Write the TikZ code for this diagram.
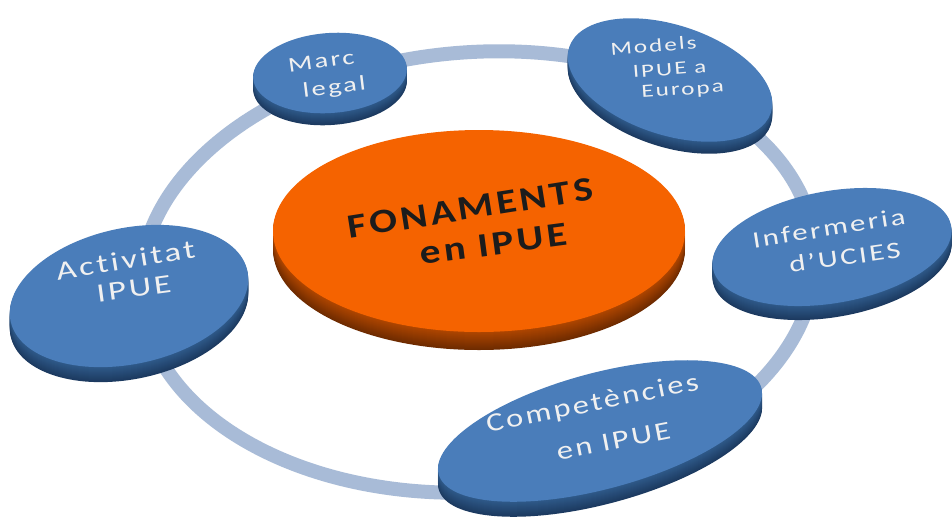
\documentclass[tikz,border=0pt]{standalone}
\usepackage{fontspec}
\setmainfont[Ligatures=NoCommon, LetterSpace=8]{Carlito}
\definecolor{ringcol}{HTML}{A8BBD7}
\definecolor{bluetop}{HTML}{4A7DBA}
\definecolor{blueside}{HTML}{2F5A8A}
\definecolor{bluedark}{HTML}{1C3A60}
\definecolor{orangetop}{HTML}{F56300}
\definecolor{orangeside}{HTML}{B04600}
\definecolor{orangedark}{HTML}{6E2B00}
\definecolor{lighttext}{HTML}{F0F0F0}
\definecolor{darktext}{HTML}{1C1C1C}
% #1 cx, #2 cy, #3 rx, #4 ry, #5 rotation, #6 thickness, #7 top, #8 side, #9 darkest
\newcommand\mydisk[9]{%
  \foreach \k [evaluate=\k as \p using int(100*\k/#6)] in {#6,...,1}{%
    \fill[#9!\p!#8, rotate around={#5:(#1,#2+\k)}] (#1,#2+\k) ellipse [x radius=#3pt, y radius=#4pt];
  }
  \fill[#7, rotate around={#5:(#1,#2)}] (#1,#2) ellipse [x radius=#3pt, y radius=#4pt];
}
\tikzset{
  bluelabel/.style={text=lighttext, anchor=base, inner sep=0pt},
  centerlabel/.style={text=darktext, anchor=base, inner sep=0pt}
}
\begin{document}
\begin{tikzpicture}[x=1pt,y=-1pt]
\useasboundingbox (0,0) rectangle (952,523);
\fill[white] (0,0) rectangle (952,523);
% ring
\draw[ringcol, line width=14pt, rotate around={4:(478,272)}] (478,272) ellipse [x radius=338pt, y radius=220pt];
% central disk
\mydisk{479}{231}{206}{101}{0}{18}{orangetop}{orangeside}{orangedark}
% outer disks
\mydisk{330}{73}{77}{40}{4}{12}{bluetop}{blueside}{bluedark}
\mydisk{670}{80}{106}{55}{-18}{12}{bluetop}{blueside}{bluedark}
\mydisk{832}{247}{121}{56}{10}{14}{bluetop}{blueside}{bluedark}
\mydisk{129}{296}{121}{68}{12}{15}{bluetop}{blueside}{bluedark}
\mydisk{600}{431}{167}{58}{15}{15}{bluetop}{blueside}{bluedark}
% labels
\node[centerlabel, font=\bfseries\fontsize{34}{34}\selectfont, rotate=9, xscale=1.21] (fon1) at (472,219) {FONAMENTS};
\node[centerlabel, font=\bfseries\fontsize{34}{34}\selectfont, rotate=7.5, xscale=1.21] (fon2) at (495,255) {en IPUE};
\node[bluelabel, font=\fontsize{21}{21}\selectfont, rotate=8, xscale=1.36] (marc1) at (322,68) {Marc};
\node[bluelabel, font=\fontsize{21}{21}\selectfont, rotate=7, xscale=1.36] (marc2) at (335,93.5) {legal};
\node[bluelabel, font=\fontsize{18.5}{18.5}\selectfont, rotate=5, xscale=1.36] (mod1) at (654,52) {Models};
\node[bluelabel, font=\fontsize{18.5}{18.5}\selectfont, rotate=4.6, xscale=1.36] (mod2) at (670,75) {IPUE a};
\node[bluelabel, font=\fontsize{18.5}{18.5}\selectfont, rotate=4, xscale=1.36] (mod3) at (683,95) {Europa};
\node[bluelabel, font=\fontsize{23.5}{23.5}\selectfont, rotate=9, xscale=1.32] (inf1) at (830,236) {Infermeria};
\node[bluelabel, font=\fontsize{23.5}{23.5}\selectfont, rotate=8, xscale=1.32] (inf2) at (846,265) {d’UCIES};
\node[bluelabel, font=\fontsize{26.5}{26.5}\selectfont, rotate=9.3, xscale=1.32] (act1) at (127,269) {Activitat};
\node[bluelabel, font=\fontsize{26.5}{26.5}\selectfont, rotate=7.7, xscale=1.32] (act2) at (135,297) {IPUE};
\node[bluelabel, font=\fontsize{26}{26}\selectfont, rotate=11.5, xscale=1.25] (comp1) at (594,411) {Competències};
\node[bluelabel, font=\fontsize{26}{26}\selectfont, rotate=11, xscale=1.25] (comp2) at (615,449) {en IPUE};
\end{tikzpicture}
\end{document}
